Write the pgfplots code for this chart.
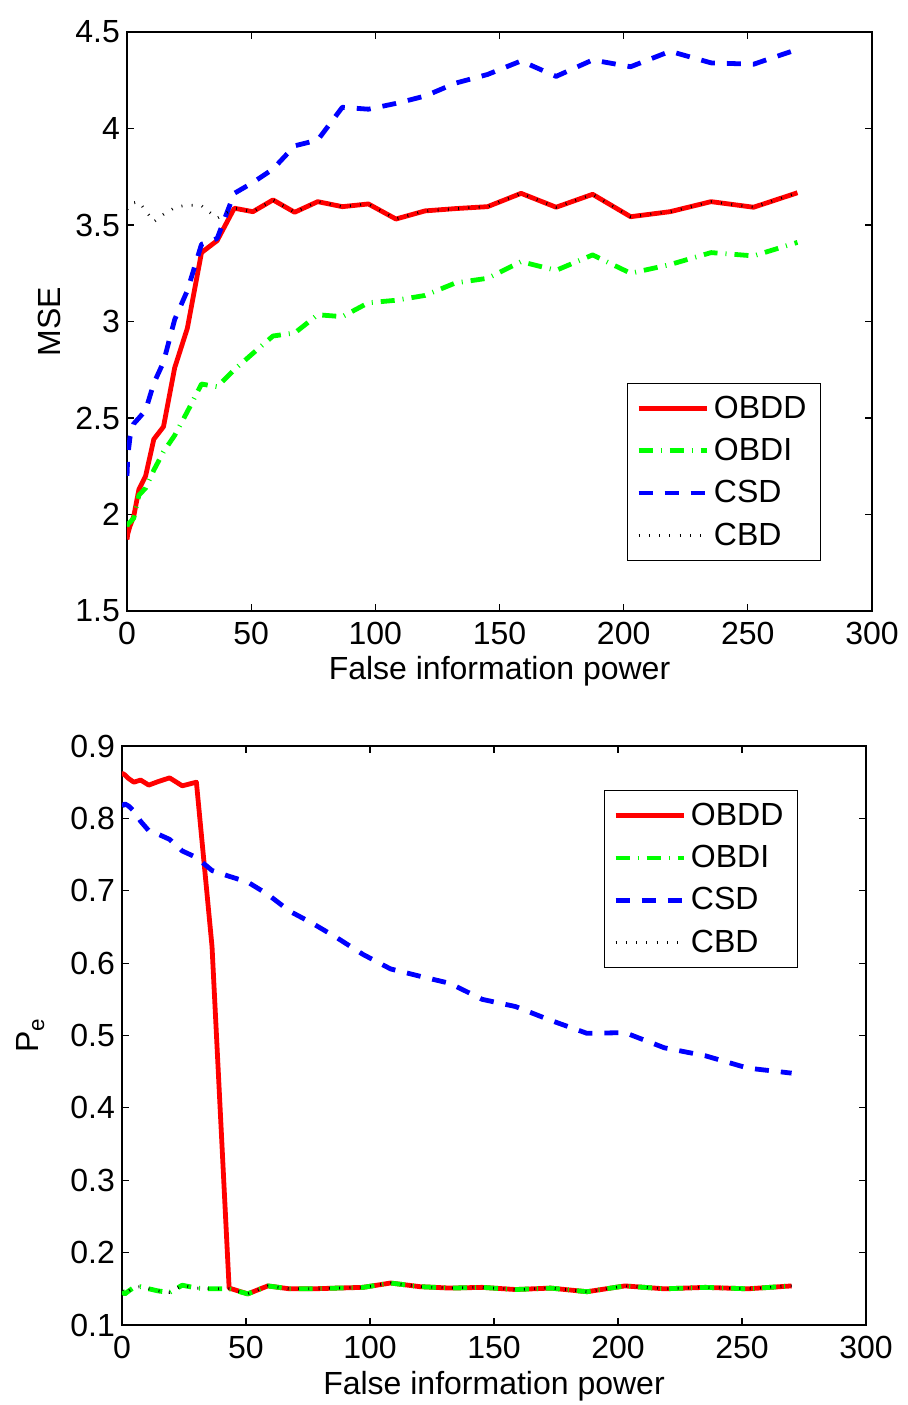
\documentclass[border=0pt]{standalone}
\usepackage{fontspec}
\setmainfont{Liberation Sans}
\usepackage{pgfplots}
\usepackage{pgfplotstable}
\pgfplotsset{compat=1.18}

\pgfplotstableread{
x obdd obdi csd cbd
0 1.870 1.937 2.200 3.580
0.3 1.900 1.950 2.300 3.590
1.2 1.940 1.960 2.400 3.600
2.7 1.990 1.980 2.470 3.615
4.8 2.130 2.100 2.500 3.620
7.5 2.200 2.137 2.540 3.575
10.8 2.390 2.230 2.680 3.517
14.7 2.455 2.325 2.790 3.555
19.2 2.760 2.410 3.010 3.590
24.3 2.965 2.533 3.160 3.604
30 3.357 2.676 3.400 3.600
36.3 3.419 2.662 3.430 3.535
43.2 3.587 2.750 3.664 3.587
50.7 3.569 2.835 3.720 3.569
58.8 3.630 2.925 3.790 3.630
67.5 3.566 2.940 3.910 3.566
76.8 3.621 3.035 3.940 3.621
86.7 3.595 3.025 4.110 3.595
97.2 3.609 3.097 4.100 3.609
108.3 3.531 3.110 4.130 3.531
120 3.573 3.135 4.168 3.573
132.3 3.585 3.200 4.235 3.585
145.2 3.595 3.224 4.280 3.595
158.7 3.664 3.310 4.350 3.664
172.8 3.592 3.265 4.270 3.592
187.5 3.659 3.345 4.355 3.659
202.8 3.543 3.250 4.320 3.543
218.7 3.569 3.295 4.400 3.569
235.2 3.621 3.357 4.340 3.621
252.3 3.592 3.340 4.333 3.592
270 3.667 3.410 4.410 3.667
}\msetable

\pgfplotstableread{
x obdd obdi csd cbd
0 0.858 0.148 0.816 0.148
0.3 0.862 0.145 0.818 0.145
1.2 0.860 0.143 0.820 0.143
2.7 0.855 0.147 0.817 0.147
4.8 0.850 0.152 0.810 0.152
7.5 0.853 0.153 0.796 0.153
10.8 0.846 0.150 0.783 0.150
14.7 0.851 0.147 0.778 0.147
19.2 0.856 0.145 0.771 0.145
24.3 0.845 0.155 0.755 0.155
30 0.850 0.151 0.746 0.151
36.3 0.623 0.150 0.728 0.150
43.2 0.151 0.150 0.720 0.150
50.7 0.143 0.143 0.712 0.143
58.8 0.154 0.154 0.695 0.154
67.5 0.150 0.150 0.672 0.150
76.8 0.150 0.150 0.655 0.150
86.7 0.151 0.151 0.635 0.151
97.2 0.152 0.152 0.612 0.152
108.3 0.158 0.158 0.592 0.158
120 0.153 0.153 0.582 0.153
132.3 0.151 0.151 0.572 0.151
145.2 0.152 0.152 0.550 0.152
158.7 0.149 0.149 0.540 0.149
172.8 0.151 0.151 0.521 0.151
187.5 0.146 0.146 0.503 0.146
202.8 0.154 0.154 0.504 0.154
218.7 0.150 0.150 0.483 0.150
235.2 0.152 0.152 0.472 0.152
252.3 0.150 0.150 0.455 0.150
270 0.154 0.154 0.448 0.154
}\petable

\definecolor{mred}{RGB}{255,0,0}
\definecolor{mgreen}{RGB}{0,255,0}
\definecolor{mblue}{RGB}{0,0,255}

\pgfplotsset{
  mstyle/.style={
    scale only axis,
    xmin=0, xmax=300,
    xtick={0,50,100,150,200,250,300},
    tick align=inside,
    major tick length=3.5pt,
    axis line style={line width=0.75pt},
    every tick/.style={black, line width=0.6pt},
    /pgf/number format/assume math mode=true,
    tick label style={font=\fontsize{16}{19}\selectfont},
    label style={font=\fontsize{16}{19}\selectfont},
    xticklabel style={yshift=-2pt},
    xlabel style={at={(axis description cs:0.5,0)}, anchor=base, yshift=-34.5pt},
    xlabel={False information power},
    legend cell align=left,
    legend image code/.code={\draw[#1] (0pt,0pt) -- (34pt,0pt);},
    legend style={draw=black, line width=0.6pt, fill=white,
      font=\fontsize{16}{19}\selectfont,
      inner xsep=4.5pt, inner ysep=1.9pt,
      column sep=0pt, row sep=0pt,
      nodes={inner xsep=2.5pt, inner ysep=4.25pt}},
  },
  sred/.style={color=mred, line width=2.4pt, line join=round},
  sgreen/.style={color=mgreen, line width=2.4pt, line join=round,
    dash pattern=on 7pt off 4pt on 0.5pt off 4pt},
  sblue/.style={color=mblue, line width=2.4pt, line join=round,
    dash pattern=on 7pt off 6pt},
  sblack/.style={color=black, line width=1.4pt,
    dash pattern=on 0.45pt off 4.7pt},
}

\begin{document}
\begin{tikzpicture}
\path[use as bounding box] (0,0) rectangle (453.5pt,702.5pt);

\begin{axis}[mstyle,
  at={(63.5pt,397pt)}, anchor=south west,
  width=372.5pt, height=289.5pt,
  ymin=1.5, ymax=4.5,
  ytick={1.5,2,2.5,3,3.5,4,4.5},
  ylabel={MSE},
  ylabel style={at={(axis description cs:-0.0899,0.5)}, anchor=base},
  legend style={at={(axis description cs:0.9315,0.0864)}, anchor=south east},
]
\addplot[sred] table[x=x,y=obdd] {\msetable};
\addplot[sgreen] table[x=x,y=obdi] {\msetable};
\addplot[sblue] table[x=x,y=csd] {\msetable};
\addplot[sblack] table[x=x,y=cbd] {\msetable};
\legend{OBDD,OBDI,CSD,CBD}
\end{axis}

\begin{axis}[mstyle,
  at={(61pt,40pt)}, anchor=south west,
  width=372pt, height=289.5pt,
  ymin=0.1, ymax=0.9,
  ytick={0.1,0.2,0.3,0.4,0.5,0.6,0.7,0.8,0.9},
  yticklabel style={/pgf/number format/fixed, /pgf/number format/precision=1},
  ylabel={P\textsubscript{e}},
  ylabel style={at={(axis description cs:-0.1116,0.5)}, anchor=base},
  legend style={at={(axis description cs:0.9086,0.924)}, anchor=north east},
]
\addplot[sred] table[x=x,y=obdd] {\petable};
\addplot[sgreen] table[x=x,y=obdi] {\petable};
\addplot[sblue] table[x=x,y=csd] {\petable};
\addplot[sblack] table[x=x,y=cbd] {\petable};
\legend{OBDD,OBDI,CSD,CBD}
\end{axis}
\end{tikzpicture}
\end{document}
